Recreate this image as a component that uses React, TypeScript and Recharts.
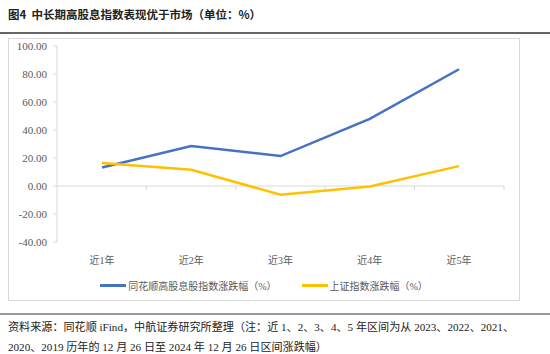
import { LineChart, Line, XAxis, YAxis, ReferenceLine } from "recharts";

const categories = ["近1年", "近2年", "近3年", "近4年", "近5年"];
const highDividend = [13.2, 28.6, 21.4, 48.0, 83.4];
const shanghai = [16.4, 11.6, -6.2, -0.4, 14.2];
const yTicks = [-40, -20, 0, 20, 40, 60, 80, 100];

const seriesNames = ["同花顺高股息股指数涨跌幅（%）", "上证指数涨跌幅（%）"];
const colors = ["#4472C4", "#FFC000"];

const data = categories.map((c, i) => ({
  name: c,
  hd: highDividend[i],
  sh: shanghai[i],
}));

const FONT = "'Liberation Serif', 'Noto Sans CJK SC', serif";
const AXIS = "#d9d9d9";
const TXT = "#595959";

// zero line with Excel-style tick marks at category boundaries
function ZeroAxis(props: any) {
  const { x1, x2, y1 } = props;
  const n = categories.length;
  const step = (x2 - x1) / n;
  return (
    <g>
      <line x1={x1} x2={x2} y1={y1} y2={y1} stroke={AXIS} strokeWidth={1} />
      {Array.from({ length: n }, (_, i) => (
        <line
          key={i}
          x1={x1 + step * (i + 1)}
          x2={x1 + step * (i + 1)}
          y1={y1}
          y2={y1 + 4}
          stroke={AXIS}
          strokeWidth={1}
        />
      ))}
    </g>
  );
}

function LegendBox() {
  return (
    <div
      style={{
        display: "flex",
        justifyContent: "center",
        gap: 25,
        fontFamily: FONT,
        fontSize: 10,
        color: TXT,
      }}
    >
      {seriesNames.map((s, i) => (
        <div key={s} style={{ display: "flex", alignItems: "center" }}>
          <span
            style={{
              display: "inline-block",
              width: 26,
              height: 3,
              background: colors[i],
              marginRight: 2,
            }}
          />
          {s}
        </div>
      ))}
    </div>
  );
}

export default function App() {
  return (
    <div
      style={{
        position: "absolute",
        left: 0,
        top: 0,
        width: 550,
        height: 354,
        background: "#fff",
        fontFamily: FONT,
      }}
    >
      <div
        style={{
          position: "absolute",
          left: 8,
          top: 6,
          fontSize: 11.5,
          fontWeight: 700,
          color: "#222",
          fontFamily: "'Noto Sans CJK SC', sans-serif",
          whiteSpace: "pre",
        }}
      >
        图4  中长期高股息指数表现优于市场（单位：%）
      </div>
      <div
        style={{
          position: "absolute",
          left: 0,
          top: 32,
          width: 550,
          height: 1.5,
          background: "#666",
        }}
      />
      <div
        style={{
          position: "absolute",
          left: 8,
          top: 38,
          width: 510,
          height: 261,
          border: `1px solid ${AXIS}`,
        }}
      >
        <LineChart
          width={510}
          height={261}
          data={data}
          margin={{ top: 7, right: 15, bottom: 0, left: 0 }}
        >
          <XAxis
            dataKey="name"
            axisLine={false}
            tickLine={false}
            tickMargin={9}
            padding={{ left: 45, right: 45 }}
            tick={{ fill: TXT, fontSize: 10, fontFamily: FONT }}
            height={58}
          />
          <YAxis
            domain={[-40, 100]}
            ticks={yTicks}
            width={48}
            axisLine={{ stroke: AXIS }}
            tickLine={{ stroke: AXIS }}
            tickSize={4}
            tickMargin={6}
            tickFormatter={(v: number) => v.toFixed(2)}
            tick={{ fill: TXT, fontSize: 11, fontFamily: FONT }}
          />
          <ReferenceLine y={0} shape={(p: any) => <ZeroAxis {...p} />} />
          <Line
            dataKey="hd"
            name={seriesNames[0]}
            stroke={colors[0]}
            strokeWidth={2.5}
            dot={false}
            isAnimationActive={false}
          />
          <Line
            dataKey="sh"
            name={seriesNames[1]}
            stroke={colors[1]}
            strokeWidth={2.5}
            dot={false}
            isAnimationActive={false}
          />
        </LineChart>
        <div style={{ position: "absolute", left: 0, top: 239, width: 510 }}>
          <LegendBox />
        </div>
      </div>
      <div
        style={{
          position: "absolute",
          left: 0,
          top: 313,
          width: 550,
          height: 2,
          background: "#999",
        }}
      />
      <div
        style={{
          position: "absolute",
          left: 8,
          top: 317,
          width: 545,
          fontSize: 11.1,
          lineHeight: "20px",
          color: "#222",
          whiteSpace: "nowrap",
        }}
      >
        资料来源：同花顺 iFind，中航证券研究所整理（注：近 1、2、3、4、5 年区间为从 2023、2022、2021、
        <br />
        2020、2019 历年的 12 月 26 日至 2024 年 12 月 26 日区间涨跌幅）
      </div>
    </div>
  );
}
